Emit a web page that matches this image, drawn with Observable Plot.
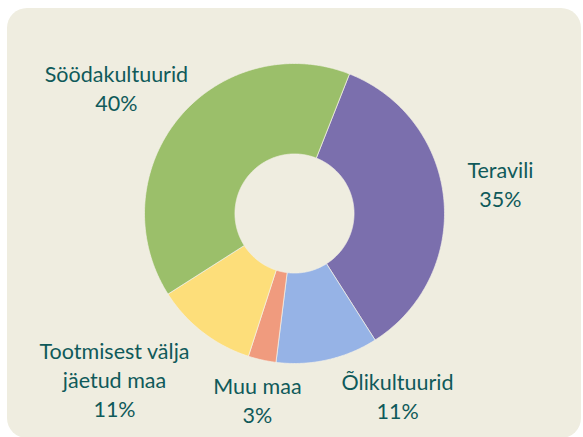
<!DOCTYPE html>
<html>
<head>
<meta charset="utf-8">
<script src="https://cdn.jsdelivr.net/npm/d3@7"></script>
<script src="https://cdn.jsdelivr.net/npm/@observablehq/plot@0.6"></script>
<style>
  html, body { margin: 0; padding: 0; background: #ffffff; }
  #wrap { position: relative; width: 583px; height: 437px; overflow: hidden; }
  #bg { position: absolute; left: 7px; top: 8px; width: 574px; height: 430px; background: #EFEDE0; border-radius: 20px; }
  #chart { position: absolute; left: 0; top: 0; }
</style>
</head>
<body>
<div id="wrap"><div id="bg"></div><div id="chart"></div></div>
<script>
// Data
const categories = ["Teravili", "Õlikultuurid", "Muu maa", "Tootmisest välja jäetud maa", "Söödakultuurid"];
const shares = [35, 11, 3, 11, 40];
const labelNames = ["Teravili", "Õlikultuurid", "Muu maa", "Tootmisest välja\njäetud maa", "Söödakultuurid"];
const colors = ["#7B6FAD", "#96B3E6", "#F09B7E", "#FDDE7A", "#9BBF6A"];
// label anchor points (in units of the outer radius, centre = 0,0)
const labelAt = [[1.373, 0.2], [0.687, -1.21], [-0.247, -1.24], [-1.2, -1.1], [-1.187, 0.84]];

const startDeg = 21.5;
const innerR = 0.397, outerR = 1;
const W = 583, H = 437, cx = 294, cy = 213, R = 150;

const total = d3.sum(shares);
const ring = [];
let acc = 0;
categories.forEach((name, i) => {
  const a0 = (startDeg + acc / total * 360) * Math.PI / 180;
  acc += shares[i];
  const a1 = (startDeg + acc / total * 360) * Math.PI / 180;
  const n = Math.max(8, Math.ceil((a1 - a0) / 0.01));
  const pts = [];
  for (let k = 0; k <= n; k++) { const a = a0 + (a1 - a0) * k / n; pts.push([outerR * Math.sin(a), outerR * Math.cos(a)]); }
  for (let k = n; k >= 0; k--) { const a = a0 + (a1 - a0) * k / n; pts.push([innerR * Math.sin(a), innerR * Math.cos(a)]); }
  pts.push(pts[0]);
  pts.forEach(([x, y]) => ring.push({name, x, y}));
});

const labels = categories.map((name, i) => ({
  name, x: labelAt[i][0], y: labelAt[i][1],
  text: labelNames[i] + "\n" + shares[i] + "%"
}));

const chart = Plot.plot({
  width: W, height: H,
  margin: 0,
  style: {background: "transparent", overflow: "visible"},
  x: {domain: [-cx / R, (W - cx) / R], range: [0, W], axis: null},
  y: {domain: [-(H - cy) / R, cy / R], range: [H, 0], axis: null},
  color: {domain: categories, range: colors},
  marks: [
    Plot.line(ring, {x: "x", y: "y", z: "name", fill: "name", stroke: "#F3F1E6", strokeWidth: 0.7, curve: "linear"}),
    Plot.text(labels, {
      x: "x", y: "y", text: "text",
      fill: "#0F5A5A", fontSize: 21.5, fontFamily: "Lato, 'Open Sans', sans-serif",
      lineHeight: 1.36, textAnchor: "middle", lineAnchor: "middle"
    })
  ]
});
document.getElementById("chart").appendChild(chart);
</script>
</body>
</html>
